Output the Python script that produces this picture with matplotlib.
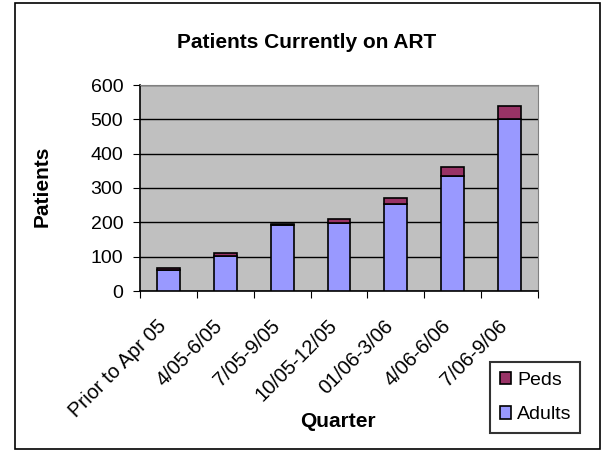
import numpy as np
import matplotlib
matplotlib.use("Agg")
import matplotlib.pyplot as plt
import matplotlib.transforms as mtransforms
from matplotlib.patches import Rectangle

plt.rcParams["font.family"] = ["Liberation Sans", "DejaVu Sans"]

quarters = ["Prior to Apr 05", "4/05-6/05", "7/05-9/05", "10/05-12/05",
            "01/06-3/06", "4/06-6/06", "7/06-9/06"]
adults = [62, 103, 193, 199, 252, 335, 500]
peds = [6, 7, 3, 11, 18, 27, 40]

W, H = 608, 454
fig = plt.figure(figsize=(W / 100, H / 100), dpi=100)
ax = fig.add_axes([140 / W, 1 - 291 / H, 398 / W, 206 / H])

# outer chart frame
fig.patches.append(Rectangle((15 / W, 1 - 449 / H), 585 / W, 446 / H,
                             transform=fig.transFigure, fill=False,
                             edgecolor="black", linewidth=1.2))

x = np.arange(len(quarters))
w = 0.4
ax.set_facecolor("#C0C0C0")
ax.bar(x, adults, w, color="#9999FF", edgecolor="black", linewidth=1.2,
       label="Adults", zorder=3)
ax.bar(x, peds, w, bottom=adults, color="#993366", edgecolor="black",
       linewidth=1.2, label="Peds", zorder=3)

ax.set_xlim(-0.5, len(quarters) - 0.5)
ax.set_ylim(0, 600)
ax.set_yticks(range(0, 601, 100))
ax.yaxis.grid(True, color="black", linewidth=1)
ax.set_axisbelow(True)

# Excel style: ticks between categories, labels drawn by hand
ax.set_xticks(np.arange(-0.5, len(quarters), 1.0))
ax.set_xticklabels([])
ax.tick_params(axis="x", length=5, direction="out")
ax.tick_params(axis="y", length=5, direction="out", labelsize=14, pad=7)

lab_tr = (mtransforms.blended_transform_factory(ax.transData, ax.transAxes)
          + mtransforms.ScaledTranslation(-12 / 100, -25 / 100, fig.dpi_scale_trans))
for i, q in enumerate(quarters):
    ax.text(i, 0, q, transform=lab_tr, rotation=45, rotation_mode="anchor",
            ha="right", va="top", fontsize=14.5)

for s in ["top", "right"]:
    ax.spines[s].set_color("#808080")
for s in ["left", "bottom"]:
    ax.spines[s].set_color("black")
    ax.spines[s].set_linewidth(1.2)

fig.text(307 / W, 1 - 48 / H, "Patients Currently on ART", fontsize=15,
         fontweight="bold", ha="center", va="baseline")
fig.text(42 / W, 1 - 186 / H, "Patients", fontsize=15, fontweight="bold",
         rotation=90, ha="center", va="center")
fig.text(338 / W, 1 - 427 / H, "Quarter", fontsize=15, fontweight="bold",
         ha="center", va="baseline")

handles, labels = ax.get_legend_handles_labels()
leg = fig.legend(handles[::-1], labels[::-1], loc="lower left",
                 bbox_to_anchor=(490 / W, 1 - 433 / H, 90 / W, 78 / H),
                 mode="expand", fontsize=14, frameon=True, fancybox=False,
                 edgecolor="black", handlelength=0.6, handleheight=0.6,
                 handletextpad=0.3, labelspacing=0.9, borderpad=0.5,
                 borderaxespad=0)
leg.get_frame().set_linewidth(1.5)

fig.savefig("out.png", dpi=100)
